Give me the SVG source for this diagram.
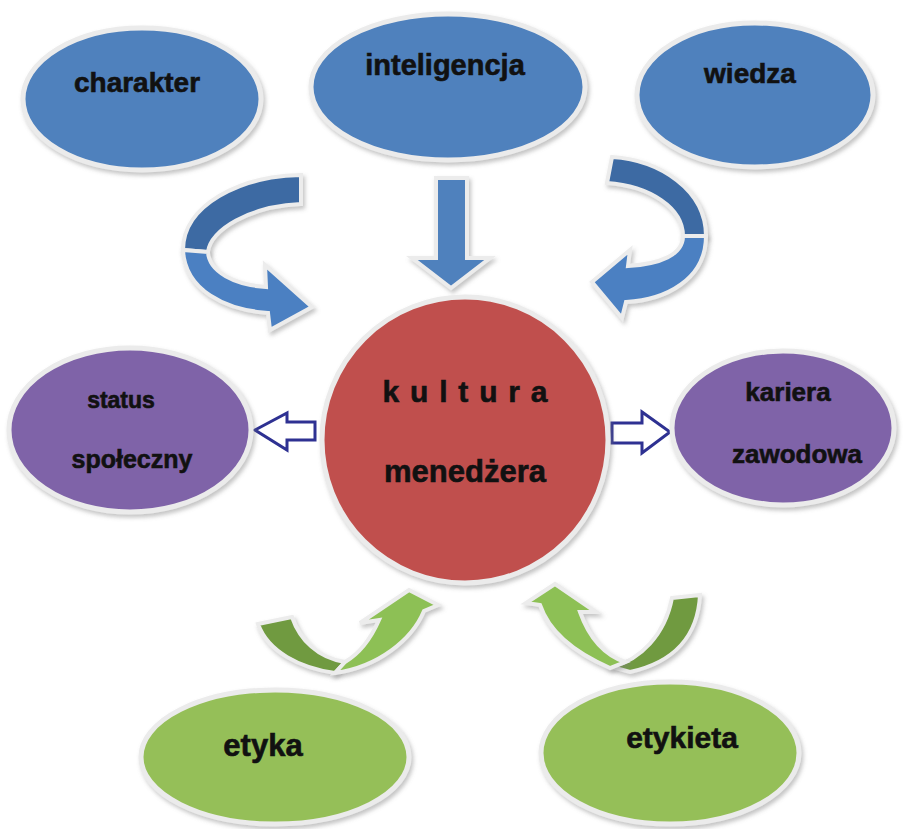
<svg xmlns="http://www.w3.org/2000/svg" width="907" height="829" viewBox="0 0 907 829">
  <defs>
    <filter id="shadow" x="-10%" y="-10%" width="125%" height="125%">
      <feDropShadow dx="2" dy="3" stdDeviation="2" flood-color="#7a7a7a" flood-opacity="0.45"/>
    </filter>
    <style>
      .rim { stroke: #ebebeb; stroke-width: 5; filter: url(#shadow); }
      .blue { fill: #4f81bd; }
      .blue-dark { fill: #3c6aa3; }
      .blue-light { fill: #4b80c2; }
      .red { fill: #c0504d; }
      .purple { fill: #7f63a8; }
      .green { fill: #95bf58; }
      .green-dark { fill: #6f9a3f; }
      .green-light { fill: #8dc055; }
      .outline { fill: #ffffff; stroke: #2e3192; stroke-width: 3; stroke-linejoin: miter; }
      .arrow-rim { stroke: #ececec; stroke-width: 4; stroke-linejoin: miter; filter: url(#shadow); }
      text { font-family: "Liberation Sans", Arial, sans-serif; font-weight: bold; fill: #111111; stroke: #111111; stroke-width: 0.6; text-anchor: middle; }
    </style>
  </defs>

  <rect width="907" height="829" fill="#ffffff"/>

  <!-- connectors -->
  <g id="connectors">
    <!-- curved arrow from charakter -->
    <path class="blue-dark arrow-rim" d="M 301 175 C 240 176, 183 205, 183 250 L 208 252 C 210 230, 250 206, 301 204 Z"/>
    <path class="blue-light arrow-rim" d="M 183 250 C 185 290, 225 310, 268 313 L 270 330 L 312 307 L 265 265 L 266 287 C 235 285, 209 272, 208 252 Z"/>

    <!-- straight arrow from inteligencja -->
    <path class="blue arrow-rim" d="M 436 178 L 467 178 L 467 258 L 490 258 L 451 288 L 412 258 L 436 258 Z"/>

    <!-- curved arrow from wiedza -->
    <path class="blue-dark arrow-rim" d="M 612 157 C 660 160, 706 190, 706 236 L 683 236 C 683 208, 650 186, 607 183 Z"/>
    <path class="blue-light arrow-rim" d="M 706 236 C 706 280, 665 300, 626 302 L 622 318 L 592 282 L 630 250 L 628 266 C 660 264, 683 255, 683 236 Z"/>

    <!-- hollow arrows to status / kariera -->
    <path class="outline" d="M 255 430 L 287 413 L 287 422 L 315 422 L 315 440 L 287 440 L 287 450 Z"/>
    <path class="outline" d="M 612 423 L 642 423 L 642 412 L 670 432 L 642 453 L 642 443 L 612 443 Z"/>

    <!-- curved arrow from etyka -->
    <path class="green-dark arrow-rim" d="M 258 624 L 292 617 C 300 640, 318 658, 345 662 L 335 673 C 300 668, 268 652, 258 624 Z"/>
    <path class="green-light arrow-rim" d="M 345 662 C 362 652, 372 636, 379 620 L 360 623 L 409 590 L 438 605 L 424 611 C 412 640, 378 667, 335 673 Z"/>

    <!-- curved arrow from etykieta -->
    <path class="green-dark arrow-rim" d="M 672 598 L 700 595 C 698 635, 675 662, 630 672 L 612 667 C 640 660, 665 635, 672 598 Z"/>
    <path class="green-light arrow-rim" d="M 540 605 L 526 603 L 555 584 L 596 612 L 580 612 C 590 640, 605 655, 625 662 L 610 668 C 580 655, 550 635, 540 605 Z"/>
  </g>

  <g id="charakter">
    <ellipse class="blue rim" cx="142" cy="99" rx="119" ry="71"/>
    <text x="137" y="92" font-size="28">charakter</text>
  </g>

  <g id="inteligencja">
    <ellipse class="blue rim" cx="448" cy="87" rx="137" ry="73"/>
    <text x="445" y="75" font-size="29">inteligencja</text>
  </g>

  <g id="wiedza">
    <ellipse class="blue rim" cx="755" cy="95" rx="118" ry="72"/>
    <text x="750" y="83" font-size="28">wiedza</text>
  </g>

  <g id="kultura-menedzera">
    <circle class="red rim" cx="465" cy="440" r="143"/>
    <text x="465" y="402" font-size="30" textLength="165" lengthAdjust="spacing">k u l t u r a</text>
    <text x="465" y="482" font-size="31">menedżera</text>
  </g>

  <g id="status-spoleczny">
    <ellipse class="purple rim" cx="130" cy="430" rx="121" ry="82"/>
    <text x="121" y="408" font-size="23">status</text>
    <text x="132" y="468" font-size="25">społeczny</text>
  </g>

  <g id="kariera-zawodowa">
    <ellipse class="purple rim" cx="783" cy="428" rx="111" ry="77"/>
    <text x="788" y="401" font-size="26">kariera</text>
    <text x="797" y="463" font-size="26">zawodowa</text>
  </g>

  <g id="etyka">
    <ellipse class="green rim" cx="275" cy="757" rx="134" ry="67"/>
    <text x="263" y="756" font-size="31">etyka</text>
  </g>

  <g id="etykieta">
    <ellipse class="green rim" cx="670" cy="753" rx="129" ry="71"/>
    <text x="682" y="748" font-size="30">etykieta</text>
  </g>
</svg>
